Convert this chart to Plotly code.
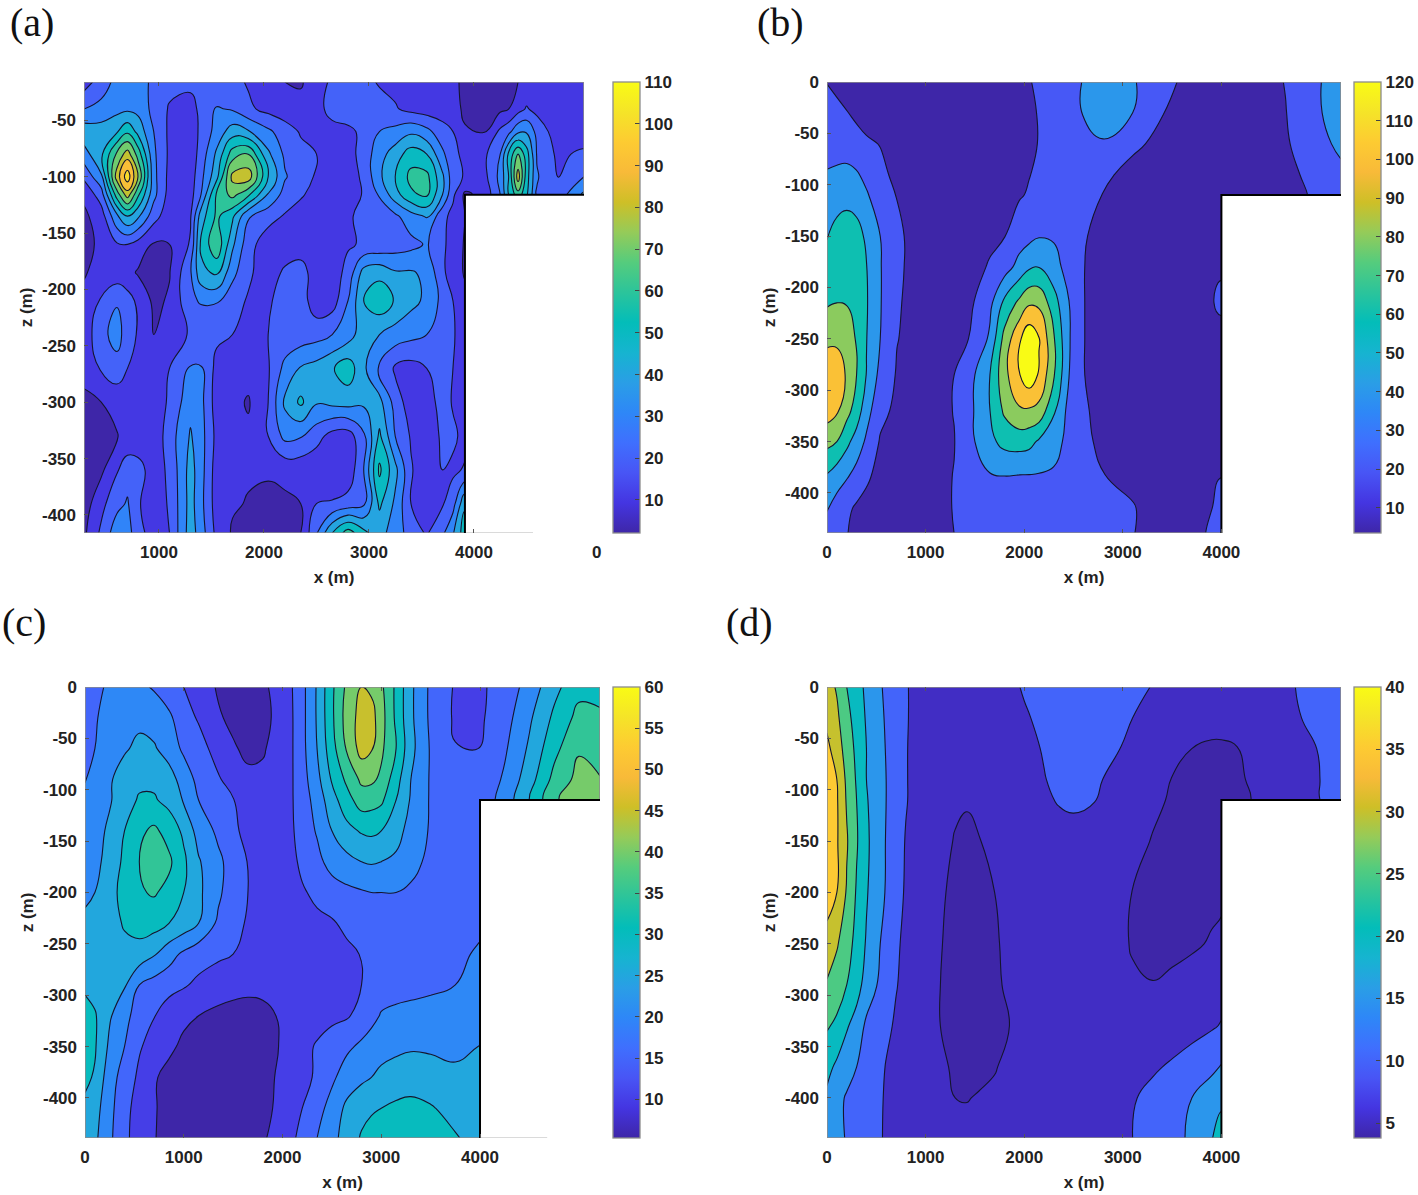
import plotly.graph_objects as go

W, H = 1418, 1195

# ---------- panel (a) ----------
X_A = [286,450,600,700,800,950,1100,1300,1400,1550,1700,1850,2040,2200,2350,2500,2650,2800,2950,3100,3250,3400,3550,3700,3800,3914,4100,4250,4330,4420,4500,4600,4800,5048]
Z_A = [-16,-40,-60,-80,-100,-116,-135,-160,-185,-210,-240,-270,-300,-330,-360,-390,-416]
V_A = [
[15,25,33,35,34,28,23,22,24,24,23,19,15,10,9,15,22,24,23,19,17,16,15,14,12,8,6,7,8,10,12,13,14,15],
[30,33,37,38,37,27,19,17,22,31,29,22,17,14,13,16,24,25,25,24,21,17,15,15,14,8,5,8,10,16,21,17,16,16],
[46,45,49,58,47,30,18,15,22,34,45,41,32,25,19,15,16,18,22,30,33,38,33,24,20,11,9.8,22,27,38,39,27,14,14],
[36,48,72,85,66,32,18,14,24,42,65,70,42,28,23,20,14,16,24,36,45,55,50,32,23,17,18,30,52,70,55,29,18,22],
[22,38,85,106,80,33,17,15,27,47,83,86,50,31,24,19,14,15,22,38,50,63,63,42,24,19,17,33,50,85,55,31,19.5,30],
[12,25,65,85,62,33,16,16,30,62,73,62,39,26,21,17,13,14,21,31,46,58,62,40,22,8,13,30,50,66,52,29,24,42],
[8,15,38,50,42,24,14,19,45,62,52,31,24,19,16,14,13,19,22,24,28,36,41,23,17,10],
[7,12,19,20,16,9,10,21,52,68,42,24,14,13,15,14,14,19,21,22,25,27,31,22,16,9],
[9,14,14,13,9,8,9.5,29,47,52,33,22,14,22,24,15,15,23,44,47,41,41,38,22,15,9],
[13,21,29,24,18,8,11,28,31,31,24,19,19,23,25,14,15,30,50,57,49,43,38,27,20,13],
[14,27,34,25,19,10,15,21,22,22,20,16,20,23,24,26,30,35,46,40,36,33,30,26,21,15],
[13,21,26,20,14,12,20,31,31,17,15,14,19,33,41,44,49,56,42,29,18,16,20,23,20,14],
[8,10,13,14,15,16,21,37,33,15,13,9,20,42,52,41,43,44,42,43,26,14,14,25,19,14],
[5,7,9.5,12,13,13,25,41,34,17,13,12,20,33,31,24,16,15,28,52,30,19,13,22,22,17],
[4,8,19,26,24,15,22,44,34,15,12,11,11,13,13,12,12,13,30,62,43,21,13,20,18,21],
[5,17,27,31,21,15,21,44,33,15,11,9.5,8,8,10,20,21,24,28,52,38,20,13,19,26,48],
[8,22,36,34,24,15,20,45,35,17,9,7,6,7,10,29,50,65,53,43,36,25,19,28,39,56],
]

# ---------- panel (b) ----------
X_B = [0,100,200,300,400,540,710,1000,1290,1500,1650,1800,1950,2050,2150,2300,2450,2600,2800,3100,3400,3700,3850,4000,4300,4650,4900,5213]
Z_B = [0,-30,-60,-90,-110,-150,-180,-215,-250,-285,-320,-350,-385,-415,-440]
V_B = [
[17,14,12,10,9,8,7,6,7,8,10,12,15,17,19,22,27,36,42,37,21,14,11,9,10,18,31,42],
[24,21,18,15,12,9,7,6,7,8,9,11,14,16,18,21,26,36,46,35,18,12,10,8,10,17,28,46],
[30,28,26,22,19.5,17,12,7,7,8,9,11,13,15,18,21,25,29,33,21,13,9,8,8,10,16,24,40],
[36,38,40,37,30,21,14,8,7,9,11,13,15,17,20,23,24,24,21,12,9,8,8,8,9,14,20,30],
[42,46,48,46,37,25,17,9,7,9,11,13,16,19,22,25,26,24,17,9,7,7,7,7,8,13,18,24],
[52,58,60,58,50,35,20,10,8,11,14,17,27,30,34,33,26,19,12,8,7,7,8,9],
[56,60,62,60,53,36,20,10,9,13,19,27,41,50,52,42,28,18,11,8,7,7,10,16],
[68,70,69,64,54,36,19,10,11,18,30,57,74,85,84,60,36,18,11,8,7,9,15,20],
[84,85,82,68,53,35,18,10,12,20,38,76,102,118,106,72,37,18,11,8,7,9,12,13],
[98,95,86,70,52,30,16,10,17.5,35,52,82,104,117,103,72,36,18,11,8,7,7,8,8],
[96,90,76,62,42,22,14,10,18,36,52,73,85,85,82,55,30,19,14,8,7,7,8,9],
[75,70,57,45,32,16,12,10,17,35,48,58,60,58,50,42,30,20,15,9,7,8,10,14],
[50,42,36,28,20,12,10,11,18,27,33,34,33,33,33,32,25,21,18,14,9,9,12,17.5],
[36,28,21,15,12,10,10,12,18,21,23,24,24,24,24,24,23,21,20,18.5,10,10,16,20],
[28,22,18,14,11,10,10,12,17.5,19,20,20,20,20,20,20,20,20,19,18,11,11,18,21],
]

# ---------- panel (c) ----------
X_C = [0,100,250,400,550,700,850,1000,1150,1350,1500,1650,1800,2000,2100,2200,2350,2500,2650,2800,2900,3000,3150,3300,3500,3750,3980,4250,4500,4750,5000,5215]
Z_C = [0,-30,-60,-90,-110,-140,-170,-200,-230,-260,-290,-320,-350,-380,-410,-439]
V_C = [
[17,18.5,21,22,21,19.5,17,15,12.5,9.5,8.5,8,9,12.5,15,18.5,25.5,34,41,45,44,41,34,26,19,14.5,14,17,22,28.5,33.5,34],
[18,19.5,22,23,24,23,21,17,14.5,10.5,9,8,8.5,12,14.8,18.5,25.5,34,42,47,47,42,34,26,19,14.3,14,18,24.2,31,36.5,35.5],
[19,20,24,24.5,26,25.5,23,19,17,13,10.5,9,9.5,12.5,14.8,18.5,25,33,40.5,47,45.5,41,35,26.5,19.5,15.2,15,19.3,25.8,33.5,39.5,38.5],
[19.8,21,24.5,27,29,29,27,23,18.5,15.5,13,11,11,13,14.8,18,23.5,30.5,36,41,41,39,32,25,19.5,16,15.5,20.8,27.8,36.5,41.5,40.2],
[21,22.5,24.5,28,30.5,30.5,28.5,24.5,20,16.8,15.2,13,12.5,14,14.8,17.5,22,28,33,37.5,37,36,30,24.5,19.5,16.5,16.5,22,30.3,39,44,44],
[22,23,26,30,34,36,33,29,23,19,16,13.5,13,13.5,14.6,17,20.5,25,28.5,30.5,31,30,27,23,19.5,17,16],
[22.5,23.5,27,31,35,38,36,31,25.5,21,18,14.8,13,13,14,16,18.5,22,23.5,25,25.5,25,24,22,18.5,16,16],
[24.5,25,28.5,31.5,34.5,35.5,33.5,30,26,21,17,15,13,13,13.5,14.5,16,17.5,18.8,19.5,20,20,20,19,17.5,16,16.5],
[25.5,26,28,30.5,32,32,30,28,25,19,16.5,14.5,13,13,13,13.5,14,14.5,16,17,17,17,17,17,17,17,18],
[26,26,27,28.5,28,25.5,22,19,17,16,15,13.5,12.5,12,12,12.5,13,13.5,14,15.2,16,16.5,17,17,17.5,18,21],
[29.5,28,26.5,25.5,20,18,17,15.5,14,12,11.5,11,11,11,11.5,12,12.5,13,14,15,16,17,17.5,18,19,20,23],
[31,30.5,25.5,22,17,15.2,12,11,10,9,8.5,8.5,9,10.5,11.5,12.5,13,14,14.5,16.5,18,20.5,21.5,22,22,22.5,24.5],
[31.5,30.5,24,20,15.5,13,11,9,8,7.5,7,7,8,10.5,12,13.5,15.5,17,19,21,23,23.5,24,24.5,24.5,24.5,25],
[31,29.5,22,18,14,10.5,8.5,7.5,7,6.5,6.5,7,8.5,11,13,14,15.5,19,22.5,24,25,26,27,27.5,26.5,25.5,26],
[29,27,21.5,16.5,13,10.5,8,7,6.5,6,6,6.5,8.5,11.5,13.5,15,18,22,26,28.5,29.5,30,31,31.5,30.5,28,27],
[28,26,21,16,13,10.3,8,7,6,6,6,7,9.5,12,14.5,16,20,23.5,27,30.5,31.5,32,32.5,33,32,30.5,28],
]

# ---------- panel (d) ----------
X_D = [0,100,200,300,400,500,600,700,800,1000,1150,1300,1420,1550,1700,1850,2000,2200,2350,2500,2700,3000,3100,3300,3500,3700,3900,4000,4150,4300,4500,4750,5000,5213]
Z_D = [0,-30,-60,-90,-110,-150,-200,-250,-290,-330,-370,-400,-440]
V_D = [
[32,29.5,25,22,19,16.5,14,12,10.3,8,7.5,7.5,7.5,8,8.3,9,10.4,12,13.5,14.5,14.8,12.5,11.5,9.8,8,7.5,7,7,7.5,7.8,8.5,10,12.5,13],
[34,31,26.5,23,19.5,16.8,14.5,12,10.3,8,7.2,7,7,7.5,8,8.5,9.5,11,12.5,13.3,13,11.2,10,8.5,7,6.3,6,6,6.5,7,8,9.5,11.5,12.5],
[36,33,27.5,24,20,17,14.8,12.2,10.2,8,7,6.5,6.5,7,7.5,8,8.7,10.3,11.5,12.5,11.5,9.8,9,7.5,5.8,5,4.6,4.6,4.8,6.2,7.5,8.7,10.2,11],
[37,35,29,24.5,20,17,15,12,10.2,8,6.8,6,5.8,6.3,7,7.5,8.3,9.8,11,11.5,10.7,8.5,8,6.5,4.9,4.4,4.2,4.3,4.5,5.3,6.7,8.5,10,10.5],
[37.5,35.5,29.5,25,20.5,17.2,15,12,10.2,8,6.6,5.5,5.2,6,6.8,7.3,8,9.3,10.3,10.7,10.2,8,7.3,5.8,4.6,4.3,4.2,4.2,4.4,5,6.5,8.3,10,10.5],
[38,35.5,30.5,25.5,21,17.5,14.8,11.5,9.8,7.6,6,4.8,4.5,4.9,6.3,7,7.5,8,8.3,8.5,8.3,7,6.3,4.8,4.3,4.2,4.2,4.2],
[37.5,35,29.5,24.5,20.5,17,14.7,11.3,9.6,7.3,5.3,4.5,4.3,4.4,5,6.5,7,7.5,7.6,7.6,7.5,5.8,4.9,4.3,4.2,4.2,4.2,4.3],
[33,30.5,27,23.5,19.5,16,13.5,10.5,9.3,7,5.1,4.4,4.2,4.3,4.5,6,7,7.5,7.6,7.6,7.3,5.5,4.7,4.2,4.2,4.5,5.3,5.8],
[29.5,27.5,25,22,18,15.2,12.5,10.2,9,7,5,4.4,4.2,4.3,4.4,5.6,7,7.5,7.7,7.8,7.5,6,5.5,5.1,5.6,6.5,7.5,8],
[25.5,24,20.5,18,14,12.5,10.8,9.5,8.5,6.8,5,4.4,4.2,4.3,4.4,5,6.8,7.5,8,8.3,8.3,7.8,7.7,7.8,8,8.5,9.5,10.3],
[21.5,19,17,15,13,11.5,9.8,8.8,8,6.6,5.5,4.6,4.3,4.4,4.8,5.8,6.8,7.5,8,8.3,8.5,8.8,9,9.5,10.5,12,14,15.3],
[19,16.5,14.5,12.5,11.5,10.7,9.7,8.5,7.8,6.5,5.8,5,4.9,5.2,5.6,6.3,7,7.5,8,8.3,8.7,9.3,9.7,11,12.5,15,17.5,19],
[17,15.8,14.8,13,11.5,10.5,9.7,8.5,7.8,6.5,6,5.8,5.8,6,6.2,6.7,7.2,7.6,8,8.3,9,9.7,10,11.3,13.5,15.8,19.8,22],
]

# colour-bar extents and tick labels
RANGE_A, TICKS_A = (2.1, 110), [10,20,30,40,50,60,70,80,90,100,110]
RANGE_B, TICKS_B = (3.5, 120), [10,20,30,40,50,60,70,80,90,100,110,120]
RANGE_C, TICKS_C = (5.3, 60), [10,15,20,25,30,35,40,45,50,55,60]
RANGE_D, TICKS_D = (3.8, 40), [5,10,15,20,25,30,35,40]

PARULA = ["#3e26a8","#4435e1","#4855f5","#3f6ffe","#2e87f7","#2a9ee6","#16b4d0","#03bdb9",
          "#2bc49b","#55cc7d","#95cb59","#cebf27","#f8ba39","#fdcb32","#f5e428","#f9fb15"]
TEXT = "#222222"
FRAME = "#8c8c8c"
FONT = "Liberation Sans"


def hex_rgb(c):
    return tuple(int(c[i:i + 2], 16) for i in (1, 3, 5))


def parula_at(t):
    t = min(max(t, 0), 1) * (len(PARULA) - 1)
    i = min(int(t), len(PARULA) - 2)
    a, b = hex_rgb(PARULA[i]), hex_rgb(PARULA[i + 1])
    f = t - i
    return "rgb(%d,%d,%d)" % tuple(round(a[k] + (b[k] - a[k]) * f) for k in range(3))


SCALE = [[i / (len(PARULA) - 1), c] for i, c in enumerate(PARULA)]

PANELS = [
    dict(n="", x=X_A, z=Z_A, v=V_A, start=10, size=10, end=100,
         bands=[2.1, 10, 20, 30, 40, 50, 60, 70, 80, 90, 100], rng=RANGE_A, cb=TICKS_A,
         box=(84, 584, 82, 533), xr=(286, 5048), yr=(-416, -16), cut=(3914, -116), stub=4562,
         xt=[1000, 2000, 3000, 4000], yt=[-50, -100, -150, -200, -250, -300, -350, -400], bar=613),
    dict(n="2", x=X_B, z=Z_B, v=V_B, start=17.5, size=17.5, end=105,
         bands=[3.5, 20, 40, 60, 80, 100, 120], rng=RANGE_B, cb=TICKS_B,
         box=(827, 1341, 82, 533), xr=(0, 5213), yr=(-439, 0), cut=(4000, -110), stub=None,
         xt=[0, 1000, 2000, 3000, 4000], yt=[0, -50, -100, -150, -200, -250, -300, -350, -400], bar=1354),
    dict(n="3", x=X_C, z=Z_C, v=V_C, start=10, size=5, end=45,
         bands=[5.3, 10, 15, 20, 25, 30, 35, 40, 45], rng=RANGE_C, cb=TICKS_C,
         box=(85, 600, 687, 1138), xr=(0, 5215), yr=(-439, 0), cut=(4000, -110), stub=4680,
         xt=[0, 1000, 2000, 3000, 4000], yt=[0, -50, -100, -150, -200, -250, -300, -350, -400], bar=613),
    dict(n="4", x=X_D, z=Z_D, v=V_D, start=5, size=5, end=35,
         bands=[3.8, 5, 10, 15, 20, 25, 30, 35], rng=RANGE_D, cb=TICKS_D,
         box=(827, 1341, 687, 1138), xr=(0, 5213), yr=(-439, 0), cut=(4000, -110), stub=None,
         xt=[0, 1000, 2000, 3000, 4000], yt=[0, -50, -100, -150, -200, -250, -300, -350, -400], bar=1354),
]

fig = go.Figure()
layout = {}
FONT_TICK = dict(family=FONT, size=17, color=TEXT, weight=600)

for p in PANELS:
    xa, ya = "x" + p["n"], "y" + p["n"]
    l, r, t, b = p["box"]
    grid = [row + [None] * (len(p["x"]) - len(row)) for row in p["v"]]
    lo, hi = p["rng"]
    n = len(p["bands"]) - 1
    stepped = [[k / n, parula_at((v - lo) / (hi - lo))] for k, v in enumerate(p["bands"])]
    fig.add_trace(go.Contour(
        x=p["x"], y=p["z"], z=grid, xaxis=xa, yaxis=ya, showscale=False,
        autocontour=False, contours=dict(start=p["start"], end=p["end"], size=p["size"], coloring="fill"),
        colorscale=stepped, line=dict(color="#15152e", width=1.1, smoothing=1.3), connectgaps=False,
        hoverinfo="skip"))
    cx, cz = p["cut"]
    x0, x1 = p["xr"]
    y0, y1 = p["yr"]
    fig.add_trace(go.Scatter(x=[cx, x1, x1, cx, cx], y=[y0, y0, cz, cz, y0], xaxis=xa, yaxis=ya,
                             mode="lines", fill="toself", fillcolor="white", line=dict(width=0), hoverinfo="skip"))
    fig.add_trace(go.Scatter(x=[cx, x0, x0, x1, x1], y=[y0, y0, y1, y1, cz], xaxis=xa, yaxis=ya,
                             mode="lines", line=dict(color=FRAME, width=1.6), cliponaxis=False, hoverinfo="skip"))
    if p["stub"]:
        fig.add_trace(go.Scatter(x=[cx, p["stub"]], y=[y0, y0], xaxis=xa, yaxis=ya, mode="lines",
                                 line=dict(color="#b5b5b5", width=1.2), cliponaxis=False, hoverinfo="skip"))
    fig.add_trace(go.Scatter(x=[cx, cx, x1], y=[y0, cz, cz], xaxis=xa, yaxis=ya, mode="lines",
                             line=dict(color="black", width=2), cliponaxis=False, hoverinfo="skip"))
    fig.add_trace(go.Scatter(
        x=[None, None], y=[None, None], xaxis=xa, yaxis=ya, mode="markers", hoverinfo="skip",
        marker=dict(color=[lo, hi], cmin=lo, cmax=hi, colorscale=SCALE, showscale=True, colorbar=dict(
            x=p["bar"] / W, xanchor="left", xpad=0, y=1 - b / H, yanchor="bottom", ypad=0,
            len=(b - t) / H, lenmode="fraction", thickness=27, thicknessmode="pixels",
            outlinecolor=FRAME, outlinewidth=1.3, ticks="inside", ticklen=5, tickcolor="#444",
            tickvals=p["cb"], ticktext=[str(v) for v in p["cb"]], ticklabelposition="outside",
            tickfont=FONT_TICK))))
    axis = dict(showgrid=False, zeroline=False, showline=False, ticks="inside", ticklen=4, tickcolor="#555",
                tickfont=FONT_TICK, ticklabelstandoff=7)
    layout["xaxis" + p["n"]] = dict(axis, domain=[l / W, r / W], range=list(p["xr"]), tickvals=p["xt"],
                                    ticktext=[str(v) for v in p["xt"]], anchor=ya, mirror="ticks",
                                    title=dict(text="x (m)", standoff=10, font=FONT_TICK))
    layout["yaxis" + p["n"]] = dict(axis, domain=[1 - b / H, 1 - t / H], range=list(p["yr"]), tickvals=p["yt"],
                                    ticktext=[str(v) for v in p["yt"]], anchor=xa,
                                    title=dict(text="z (m)", standoff=5, font=FONT_TICK))

LETTERS = [("(a)", 8, 23), ("(b)", 755, 23), ("(c)", 0, 623), ("(d)", 724, 623)]
annotations = [dict(text=s, x=px / W, y=1 - py / H, xref="paper", yref="paper", xanchor="left", yanchor="middle",
                    showarrow=False, font=dict(family="Liberation Serif", size=40, color="#111")) for s, px, py in LETTERS]
annotations.append(dict(text="0", x=596 / W, y=1 - 552 / H, xref="paper", yref="paper", showarrow=False, font=FONT_TICK))

fig.update_layout(width=W, height=H, margin=dict(l=0, r=0, t=0, b=0, autoexpand=False), paper_bgcolor="white", plot_bgcolor="white",
                  showlegend=False, annotations=annotations, **layout)

fig.write_html("out.html", post_script="document.body.style.margin='0';", config={"displayModeBar": False})
